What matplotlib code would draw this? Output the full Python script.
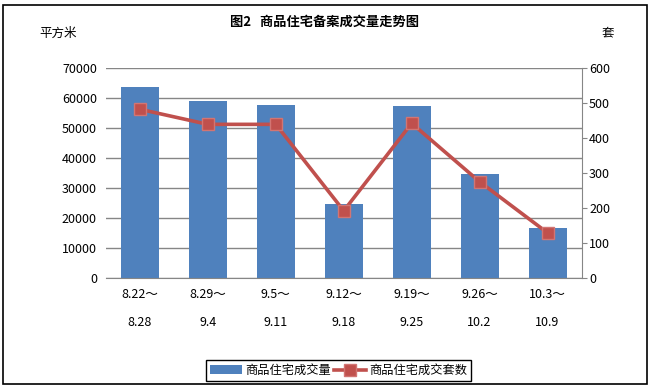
import matplotlib
matplotlib.use('Agg')
import matplotlib.pyplot as plt
from matplotlib.patches import Rectangle
import numpy as np

plt.rcParams['font.family'] = ['Noto Sans CJK SC', 'DejaVu Sans']

periods_start = ['8.22～', '8.29～', '9.5～', '9.12～', '9.19～', '9.26～', '10.3～']
periods_end = ['8.28', '9.4', '9.11', '9.18', '9.25', '10.2', '10.9']
area = [63700, 59000, 57700, 24800, 57400, 34700, 16700]   # 平方米
units = [482, 439, 439, 192, 442, 275, 129]                # 套

W, H = 649, 389
fig = plt.figure(figsize=(W / 100, H / 100), dpi=100)

ax = fig.add_axes([106 / W, 1 - 278 / H, (581.5 - 106) / W, 210 / H])
x = np.arange(len(area))
ax.bar(x, area, width=0.56, color='#4F81BD', zorder=2, label='商品住宅成交量')
ax.set_xlim(-0.5, len(area) - 0.5)
ax.set_ylim(0, 70000)
ax.set_yticks(range(0, 70001, 10000))
ax.grid(axis='y', color='#868686', lw=1)
ax.set_axisbelow(True)
for s in ['top', 'left', 'right']:
    ax.spines[s].set_visible(False)
ax.spines['bottom'].set_color('#868686')
ax.tick_params(axis='y', length=0, pad=6.5, labelsize=9)
ax.set_xticks(x)
ax.set_xticklabels([a + '\n' + b for a, b in zip(periods_start, periods_end)],
                   fontsize=9, linespacing=2.55)
ax.tick_params(axis='x', length=0, pad=7)

ax2 = ax.twinx()
ax2.plot(x, units, color='#C0504D', lw=2.6, marker='s', ms=8,
         mfc='#C0504D', mec='#D27573', mew=1, label='商品住宅成交套数', zorder=3)
ax2.set_ylim(0, 600)
ax2.set_yticks(range(0, 601, 100))
for s in ['top', 'left', 'bottom']:
    ax2.spines[s].set_visible(False)
ax2.spines['right'].set_color('#868686')
ax2.tick_params(axis='y', length=3.6, color='#868686', pad=1.8, labelsize=9)

fig.text(324 / W, 1 - 22 / H, '图2   商品住宅备案成交量走势图', ha='center', va='center',
         fontsize=9.5, fontweight='bold')
fig.text(58 / W, 1 - 33 / H, '平方米', ha='center', va='center', fontsize=9)
fig.text(608 / W, 1 - 33 / H, '套', ha='center', va='center', fontsize=9)

h1, l1 = ax.get_legend_handles_labels()
h2, l2 = ax2.get_legend_handles_labels()
leg = fig.legend(h1 + h2, l1 + l2, loc='center', bbox_to_anchor=(338.5 / W, 1 - 370.5 / H),
                 ncol=2, fontsize=8.8, frameon=True, fancybox=False, edgecolor='black',
                 framealpha=1, borderpad=0.3, handlelength=2.6, handletextpad=0.25,
                 columnspacing=0.3, borderaxespad=0)
leg.get_frame().set_linewidth(1)

fig.patches.append(Rectangle((2.5 / W, 1 - 383.5 / H), (646.5 - 2.5) / W, (383.5 - 5) / H,
                             transform=fig.transFigure, fill=False, edgecolor='black', lw=1.2))

fig.savefig('out.png', dpi=100)
